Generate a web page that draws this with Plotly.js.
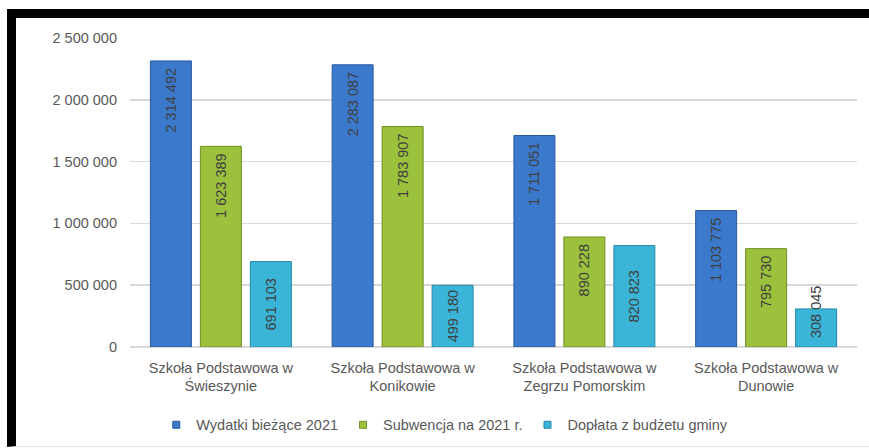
<!DOCTYPE html>
<html>
<head>
<meta charset="utf-8">
<script src="https://cdn.plot.ly/plotly-3.0.1.min.js"></script>
<style>
  html, body { margin: 0; padding: 0; background: #fff; }
  #wrap { position: relative; width: 869px; height: 448px; overflow: hidden; }
  #chart { position: absolute; left: 0; top: 0; width: 869px; height: 448px; }
  #frame { position: absolute; left: 7px; top: 9px; width: 862px; height: 438px;
           border-top: 9px solid #000; border-left: 9px solid #000;
           border-bottom: 1px solid #e3e3e3; box-sizing: border-box; pointer-events: none; }
</style>
</head>
<body>
<div id="wrap">
  <div id="chart"></div>
  <div id="frame"></div>
</div>
<script>
const categories = [
  "Szkoła Podstawowa w<br>Świeszynie",
  "Szkoła Podstawowa w<br>Konikowie",
  "Szkoła Podstawowa w<br>Zegrzu Pomorskim",
  "Szkoła Podstawowa w<br>Dunowie"
];
const seriesNames = ["Wydatki bieżące 2021", "Subwencja na 2021 r.", "Dopłata z budżetu gminy"];
const wydatki = [2314492, 2283087, 1711051, 1103775];
const subwencja = [1623389, 1783907, 890228, 795730];
const doplata = [691103, 499180, 820823, 308045];
const yTickVals = [0, 500000, 1000000, 1500000, 2000000, 2500000];
const yTickText = ["0", "500 000", "1 000 000", "1 500 000", "2 000 000", "2 500 000"];

const NB = "\u00A0";
function fmtTop(v) {
  return String(v).replace(/\B(?=(\d{3})+(?!\d))/g, NB) + NB;
}
function fmtMid(v) {
  let s = String(v).replace(/\B(?=(\d{3})+(?!\d))/g, NB);
  // a label longer than its bar is pushed up across the bar's top edge
  if (v < 400000) s = NB.repeat(8) + s;
  return s;
}

const colors = ["#3b79cc", "#9cc13c", "#3ab5d8"];
const lineColors = ["#2a5a9e", "#6f8f24", "#2488a6"];
const values = [wydatki, subwencja, doplata];
const anchors = ["end", "end", "middle"];
const formatters = [fmtTop, fmtTop, fmtMid];

const FONT = "Liberation Sans, Arial, sans-serif";

const traces = values.map((vals, i) => ({
  type: "bar",
  name: seriesNames[i],
  x: categories,
  y: vals,
  text: vals.map(formatters[i]),
  textposition: "inside",
  insidetextanchor: anchors[i],
  textangle: -90,
  constraintext: "none",
  cliponaxis: false,
  textfont: { family: FONT, size: 14.5, color: "#404040" },
  marker: { color: colors[i], line: { color: lineColors[i], width: 1 } },
  showlegend: false,
  hoverinfo: "none"
}));

// legend-only entries with small square keys
seriesNames.forEach((name, i) => {
  traces.push({
    type: "scatter",
    mode: "markers",
    name: name,
    x: [null],
    y: [null],
    marker: { symbol: "square", size: 7, color: colors[i], line: { color: lineColors[i], width: 1 } },
    showlegend: true,
    hoverinfo: "none"
  });
});

const layout = {
  width: 869,
  height: 448,
  paper_bgcolor: "#ffffff",
  plot_bgcolor: "#ffffff",
  margin: { l: 130, r: 12, t: 38, b: 101, autoexpand: false },
  barmode: "group",
  bargap: 0.175,
  bargroupgap: 0.18,
  font: { family: FONT, size: 14.5, color: "#595959" },
  xaxis: {
    type: "category",
    showline: false,
    ticks: "",
    ticklabelstandoff: 10,
    tickfont: { size: 14.5, color: "#595959" },
    fixedrange: true
  },
  yaxis: {
    range: [0, 2500000],
    tickvals: yTickVals,
    ticktext: yTickText,
    showgrid: true,
    gridcolor: "#d9d9d9",
    gridwidth: 1.5,
    zeroline: true,
    zerolinecolor: "#d9d9d9",
    zerolinewidth: 1.5,
    ticks: "",
    ticklabelstandoff: 12,
    tickfont: { size: 14.5, color: "#595959" },
    fixedrange: true
  },
  legend: {
    orientation: "h",
    x: 0.433,
    xanchor: "center",
    y: -0.252,
    yanchor: "middle",
    font: { family: FONT, size: 14.5, color: "#595959" },
    itemwidth: 30,
    traceorder: "normal"
  },
  showlegend: true
};

Plotly.newPlot("chart", traces, layout, { displayModeBar: false, staticPlot: true });
</script>
</body>
</html>
